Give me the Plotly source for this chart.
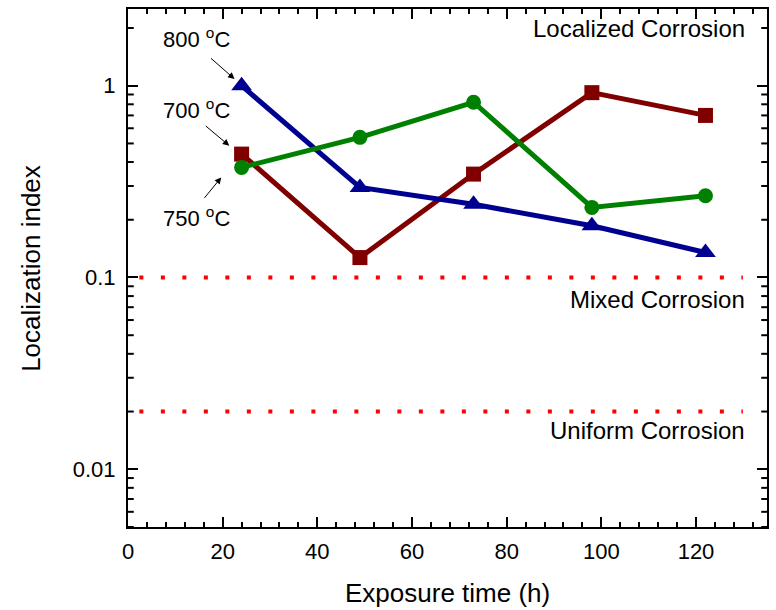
import math
import plotly.graph_objects as go

# Exposure times (h) and localization index for each temperature
hours = [24, 49, 73, 98, 122]
li_700 = [0.44, 0.127, 0.346, 0.92, 0.70]
li_750 = [0.375, 0.538, 0.82, 0.232, 0.267]
li_800 = [1.0, 0.295, 0.241, 0.186, 0.135]

# Threshold levels separating corrosion regimes
thresholds = [0.1, 0.02]

x_ticks = [0, 20, 40, 60, 80, 100, 120]
y_ticks = [0.01, 0.1, 1]
y_tick_text = ["0.01", "0.1", "1"]

FONT = "Liberation Sans, Arial, sans-serif"
Y_RANGE = [math.log10(0.005), 0.40]

fig = go.Figure()

# Dotted threshold lines
for t in thresholds:
    fig.add_trace(go.Scatter(
        x=[2.4, 129.9], y=[t, t], mode="lines",
        line=dict(color="#ff0000", width=4, dash="4px,17.5px"),
        hoverinfo="skip", showlegend=False,
    ))

series = [
    ("700 °C", li_700, "#800000", "square", 15),
    ("800 °C", li_800, "#000090", "triangle-up", 18),
    ("750 °C", li_750, "#008000", "circle", 15),
]
for name, vals, color, sym, size in series:
    fig.add_trace(go.Scatter(
        x=hours, y=vals, name=name, mode="lines+markers",
        line=dict(color=color, width=5),
        marker=dict(color=color, symbol=sym, size=size),
        showlegend=False,
    ))

fig.update_layout(
    xaxis=dict(
        range=[0, 135], tickvals=x_ticks, ticks="inside", ticklen=10,
        tickwidth=2, tickcolor="black", showline=True, linewidth=2,
        linecolor="black", mirror="allticks", showgrid=False, zeroline=False,
        minor=dict(dtick=4, tick0=0, ticks="inside", ticklen=5, tickwidth=2,
                   tickcolor="black", showgrid=False),
        tickfont=dict(family=FONT, size=22, color="black"),
        ticklabelstandoff=4,
    ),
    yaxis=dict(
        type="log", range=Y_RANGE,
        tickvals=y_ticks, ticktext=y_tick_text, ticks="inside", ticklen=10,
        tickwidth=2, tickcolor="black", showline=True, linewidth=2,
        linecolor="black", mirror="allticks", showgrid=False, zeroline=False,
        tickfont=dict(family=FONT, size=22, color="black"),
        ticklabelstandoff=6,
    ),
)

# Log minor ticks (2..9 of each decade) on the left and right frame edges
minor_y = [d * 10 ** e for e in range(-3, 1) for d in range(2, 10)
           if 0.005 <= d * 10 ** e <= 2.5]
shapes = []
for v in minor_y:
    frac = (math.log10(v) - Y_RANGE[0]) / (Y_RANGE[1] - Y_RANGE[0])
    for x0, x1 in [(0.0, 0.009), (0.991, 1.0)]:
        shapes.append(dict(
            type="line", xref="paper", yref="paper",
            x0=x0, x1=x1, y0=frac, y1=frac,
            line=dict(color="black", width=2), layer="above",
        ))

annotations = []

# Regime labels, right aligned
for text, yv in [("Localized Corrosion", 0.296),
                 ("Mixed Corrosion", -1.116),
                 ("Uniform Corrosion", -1.80)]:
    annotations.append(dict(
        x=130.8, y=yv, xref="x", yref="y", text=text, showarrow=False,
        xanchor="right", yanchor="middle",
        font=dict(family=FONT, size=24, color="black"),
    ))

# Temperature labels
for text, yv in [("800 <sup>o</sup>C", 0.249),
                 ("700 <sup>o</sup>C", -0.1215),
                 ("750 <sup>o</sup>C", -0.685)]:
    annotations.append(dict(
        x=7.0, y=yv, xref="x", yref="y", text=text, showarrow=False,
        xanchor="left", yanchor="middle",
        font=dict(family=FONT, size=22, color="black"),
    ))

# Pointer arrows to the first points
for tx, ty, ax, ay in [(22.5, 0.035, -25, -22),
                       (21.4, -0.313, -25, -21),
                       (19.7, -0.478, -18, 22)]:
    annotations.append(dict(
        x=tx, y=ty, xref="x", yref="y", ax=ax, ay=ay, text="",
        showarrow=True, arrowhead=2, arrowsize=1.3, arrowwidth=1,
        arrowcolor="black",
    ))

# Axis titles
annotations.append(dict(
    x=-0.152, y=0.5, xref="paper", yref="paper", text="Localization index",
    textangle=-90, showarrow=False, xanchor="center", yanchor="middle",
    font=dict(family=FONT, size=26, color="black"),
))
annotations.append(dict(
    x=0.5, y=-0.128, xref="paper", yref="paper", text="Exposure time (h)",
    showarrow=False, xanchor="center", yanchor="middle",
    font=dict(family=FONT, size=26, color="black"),
))

fig.update_layout(
    width=776, height=610,
    margin=dict(l=128, r=7, t=9, b=83),
    paper_bgcolor="white", plot_bgcolor="white",
    annotations=annotations, shapes=shapes,
    showlegend=False,
)

fig.write_html("out.html")
